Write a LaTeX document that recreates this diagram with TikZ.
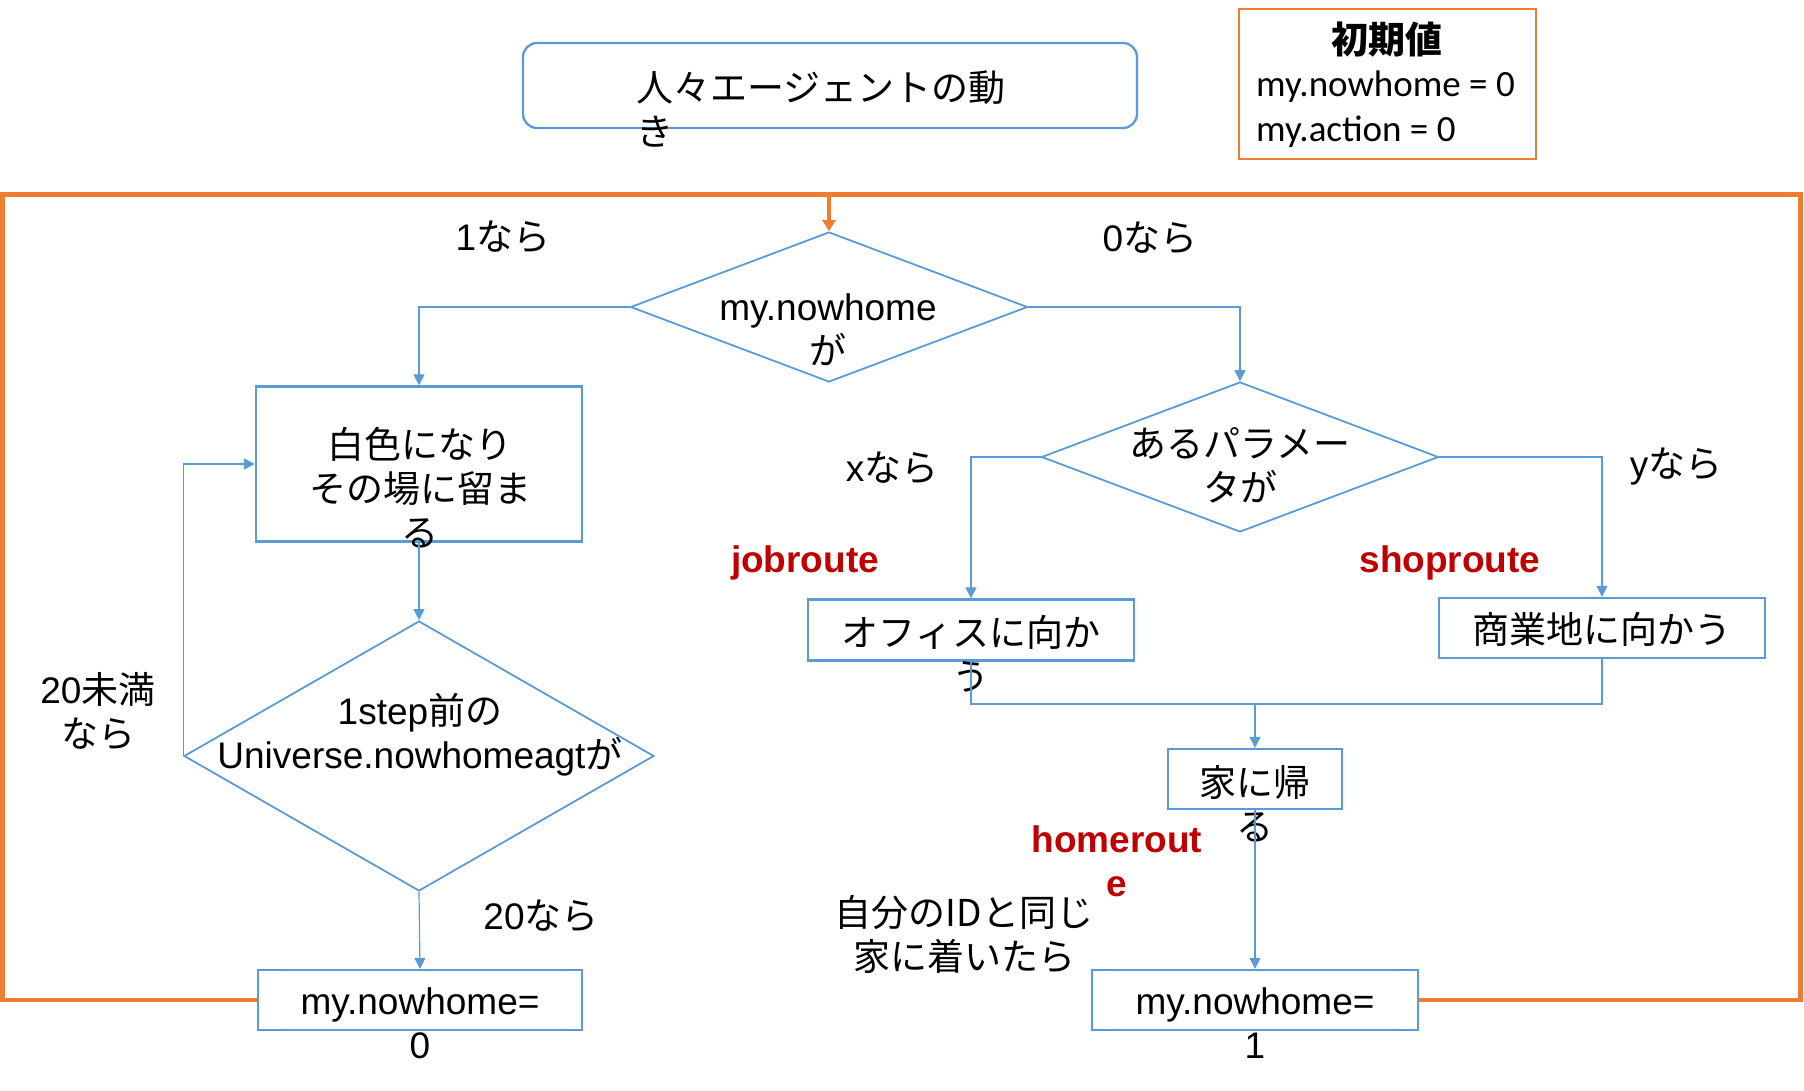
\documentclass[tikz,border=0pt]{standalone}
\usepackage{fontspec}
\setmainfont{Liberation Sans}
\newfontfamily\jp{Noto Sans CJK JP}
\newfontfamily\carl{Carlito}
\usetikzlibrary{shapes.geometric,arrows.meta}
\definecolor{bl}{HTML}{5B9BD5}
\definecolor{orn}{HTML}{ED7D31}
\definecolor{rd}{HTML}{C00000}
\newcommand{\J}[1]{{\jp #1}}
\tikzset{
  boxnode/.style={draw=bl,line width=2.3pt,inner sep=0pt},
  dia/.style={diamond,draw=bl,line width=1.8pt,inner sep=0pt},
  cline/.style={draw=bl,line width=1.2pt},
  conn/.style={cline,-{Triangle[width=11pt,length=11pt]}},
  frame/.style={draw=orn,line width=4.5pt,line join=miter},
  txt/.style={font=\fontsize{37}{44}\selectfont,align=center,inner sep=0pt},
  redtxt/.style={txt,text=rd,font=\fontsize{37}{44}\selectfont\bfseries}
}
\begin{document}
\begin{tikzpicture}[x=1pt,y=-1pt]
\useasboundingbox (0,0) rectangle (1804,1091);
% top title box
\node[boxnode,rounded corners=14pt,minimum width=614pt,minimum height=85pt] (title) at (830,85.5) {};
\node[txt,align=left,anchor=west] (titlet) at (636,109) {\J{人々エージェントの動}\\\J{き}};
% initial value box
\node[draw=orn,line width=2.3pt,inner sep=0pt,minimum width=297pt,minimum height=150pt] (init) at (1387.5,84) {};
\node[txt] (initt) at (1387,40) {\jp\bfseries 初期値};
\node[inner sep=0pt,align=left,anchor=west,font=\carl\fontsize{37}{45}\selectfont] (initv) at (1256,109) {my.nowhome = 0\\my.action = 0};
% decision 1
\node[dia,minimum width=397pt,minimum height=150pt] (d1) at (829,307) {};
\node[txt] (d1t) at (828,329.5) {my.nowhome\\\J{が}};
% left branch
\node[boxnode,minimum width=326pt,minimum height=155pt] (b1) at (419,464) {};
\node[txt] (b1t) at (420,487.5) {\J{白色になり}\\\J{その場に留ま}\\\J{る}};
\node[dia,minimum width=470pt,minimum height=270pt] (d3) at (419,756) {};
\node[txt] (d3t) at (420,735) {1step\J{前の}\\Universe.nowhomeagt\J{が}};
\node[boxnode,minimum width=324pt,minimum height=60pt] (out0) at (420,1000) {};
\node[txt] (out0t) at (420,1023.5) {my.nowhome=\\0};
% right branch
\node[dia,minimum width=397pt,minimum height=150pt] (d2) at (1240,457) {};
\node[txt] (d2t) at (1240,465.5) {\J{あるパラメー}\\\J{タが}};
\node[boxnode,minimum width=326pt,minimum height=61pt] (office) at (971,630) {};
\node[txt] (officet) at (971,654) {\J{オフィスに向か}\\\J{う}};
\node[boxnode,minimum width=326pt,minimum height=60pt] (shop) at (1602,628) {};
\node[txt] (shopt) at (1602,629) {\J{商業地に向かう}};
\node[boxnode,minimum width=174pt,minimum height=60pt] (home) at (1255,779) {};
\node[txt] (homet) at (1255,804) {\J{家に帰}\\\J{る}};
\node[boxnode,minimum width=326pt,minimum height=60pt] (out1) at (1255,1000) {};
\node[txt] (out1t) at (1255,1023.5) {my.nowhome=\\1};
% labels
\node[txt] (l1) at (503,237) {1\J{なら}};
\node[txt] (l0) at (1150,238) {0\J{なら}};
\node[txt] (lx) at (892,468) {x\J{なら}};
\node[txt] (ly) at (1676,467) {y\J{なら}};
\node[txt] (l20m) at (98,711.5) {20\J{未満}\\\J{なら}};
\node[txt] (l20) at (541,916) {20\J{なら}};
\node[redtxt] (ljob) at (805,563) {jobroute};
\node[redtxt] (lshop) at (1450,563) {shoproute};
\node[redtxt] (lhome) at (1117,861) {homerout\\e};
\node[txt] (lid) at (964,934) {\J{自分のIDと同じ}\\\J{家に着いたら}};
% coordinates
\coordinate (m) at (1255,704);
\coordinate (fl) at (2.3,194.5);
\coordinate (fr) at (1800.5,194.5);
\coordinate (ftop) at (829,194.5);
% connectors
\draw[conn] (d1.west) -| (b1.north);
\draw[conn] (d1.east) -| (d2.north);
\draw[conn] (b1.south) -- (d3.north);
\draw[conn] (d3.west) |- (b1.west);
\draw[conn] (d3.south) -- (out0.north);
\draw[conn] (d2.west) -| (office.north);
\draw[conn] (d2.east) -| (shop.north);
\draw[cline] (office.south) |- (m);
\draw[cline] (shop.south) |- (m);
\draw[conn] (m) -- (home.north);
\draw[conn] (home.south) -- (out1.north);
% orange loop frame
\draw[frame] (out0.west) -| (fl) -- (fr) |- (out1.east);
\draw[frame,-{Triangle[width=13pt,length=11pt]}] (ftop) -- (d1.north);
\end{tikzpicture}
\end{document}
